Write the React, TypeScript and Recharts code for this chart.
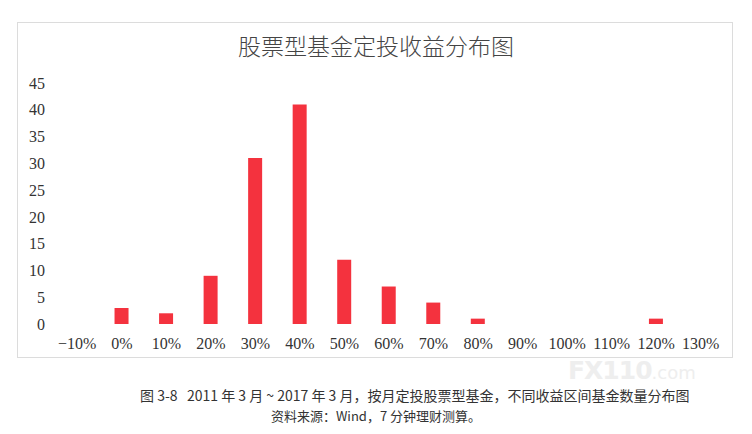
import React from 'react';
import { BarChart, Bar, XAxis, YAxis } from 'recharts';

// 收益区间 → 基金数量
const RANGES = ['−10%', '0%', '10%', '20%', '30%', '40%', '50%', '60%', '70%', '80%', '90%', '100%', '110%', '120%', '130%'];
const COUNTS = [0, 3, 2, 9, 31, 41, 12, 7, 4, 1, 0, 0, 0, 1, 0];
const Y_TICKS = [0, 5, 10, 15, 20, 25, 30, 35, 40, 45];

const TITLE = '股票型基金定投收益分布图';
const CAPTION = '图 3-8   2011 年 3 月 ~ 2017 年 3 月，按月定投股票型基金，不同收益区间基金数量分布图';
const SOURCE = '资料来源：Wind，7 分钟理财测算。';

const SERIF = '"Liberation Serif", "DejaVu Serif", serif';
const CJK = '"Noto Sans CJK SC", "Noto Sans", sans-serif';

const data = RANGES.map((r, i) => ({ range: r, count: COUNTS[i] }));

const App: React.FC = () => (
  <div style={{ position: 'absolute', left: 0, top: 0, width: 752, height: 434, background: '#fff', overflow: 'hidden' }}>
    {/* 图框 */}
    <div style={{ position: 'absolute', left: 17, top: 22, width: 716, height: 336, border: '1px solid #dcdcdc', boxSizing: 'border-box' }} />
    <div style={{ position: 'absolute', left: 0, width: 752, top: 30, textAlign: 'center', fontFamily: CJK, fontSize: 23, lineHeight: '30px', color: '#444', fontWeight: 300 }}>
      {TITLE}
    </div>

    <div style={{ position: 'absolute', left: 0, top: 0 }}>
      {/* 底部 margin 不含 XAxis 默认高度 30 */}
      <BarChart width={752} height={434} data={data} margin={{ top: 83, right: 29, bottom: 80, left: 5 }}>
        <XAxis
          dataKey="range"
          axisLine={false}
          tickLine={false}
          interval={0}
          tickMargin={8}
          tick={{ fontFamily: SERIF, fontSize: 16, fill: '#333' }}
        />
        <YAxis
          width={50}
          domain={[0, 45]}
          ticks={Y_TICKS}
          axisLine={false}
          tickLine={false}
          tickMargin={4}
          tick={{ fontFamily: SERIF, fontSize: 16, fill: '#333' }}
        />
        <Bar dataKey="count" fill="#f4323e" barSize={14} isAnimationActive={false} />
      </BarChart>
    </div>

    {/* 水印 */}
    <div style={{ position: 'absolute', left: 568, top: 357, height: 28, lineHeight: '28px', fontFamily: '"DejaVu Sans", sans-serif', color: '#eeeeee', whiteSpace: 'nowrap' }}>
      <span style={{ fontSize: 25, fontWeight: 700, letterSpacing: -1 }}>FX110</span>
      <span style={{ fontSize: 18 }}>.com</span>
    </div>

    <div style={{ position: 'absolute', left: 140, top: 386, fontFamily: CJK, fontSize: 14, lineHeight: '18px', color: '#333', whiteSpace: 'pre' }}>
      {CAPTION}
    </div>
    <div style={{ position: 'absolute', left: 0, width: 752, top: 408, textAlign: 'center', fontFamily: CJK, fontSize: 13, lineHeight: '16px', color: '#333' }}>
      {SOURCE}
    </div>
  </div>
);

export default App;
